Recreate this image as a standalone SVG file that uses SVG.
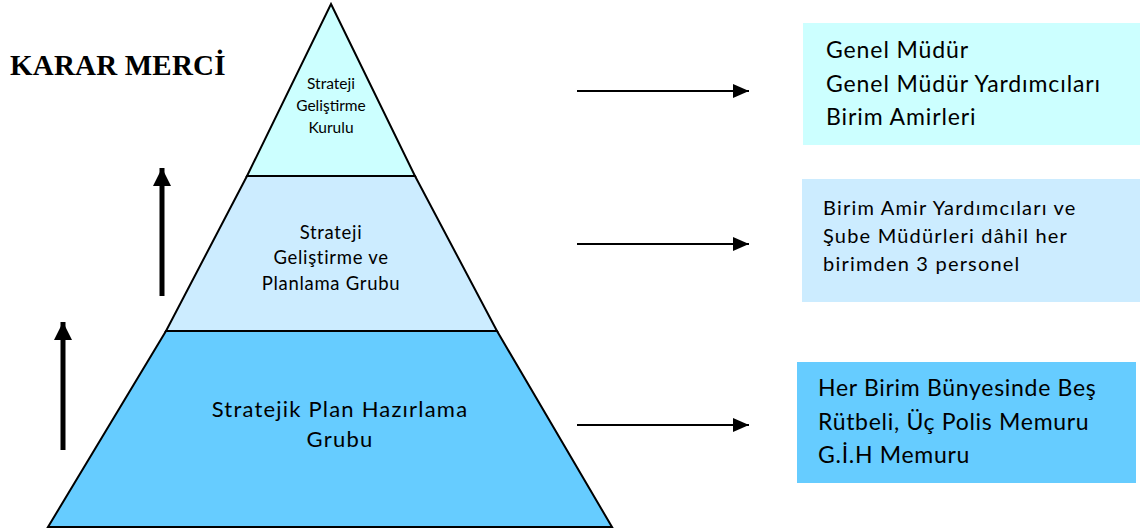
<svg xmlns="http://www.w3.org/2000/svg" width="1140" height="528" viewBox="0 0 1140 528">
  <defs>
    <marker id="headRight" markerWidth="16" markerHeight="14" refX="16" refY="7" orient="auto" markerUnits="userSpaceOnUse">
      <path d="M0,0 L16,7 L0,14 Z" fill="#000"/>
    </marker>
    <marker id="headUp" markerWidth="18" markerHeight="18" refX="18" refY="9" orient="auto" markerUnits="userSpaceOnUse">
      <path d="M0,0 L18,9 L0,18 Z" fill="#000"/>
    </marker>
  </defs>
  <style>
    .tier { stroke: #000; stroke-width: 2; stroke-linejoin: miter; }
    .t1 { fill: #CCFFFF; }
    .t2 { fill: #CCECFF; }
    .t3 { fill: #66CCFF; }
    .lbl { font-family: Lato, "Open Sans", "Noto Sans", sans-serif; fill: #000; }
    .ctr { text-anchor: middle; }
    .title { font-family: "Liberation Serif", "Times New Roman", serif; font-weight: bold; font-size: 29px; letter-spacing: 0.2px; fill: #000; }
    .flow { stroke: #000; stroke-width: 2; fill: none; marker-end: url(#headRight); }
    .rise { stroke: #000; stroke-width: 5; fill: none; marker-end: url(#headUp); }
  </style>

  <rect width="1140" height="528" fill="#fff"/>

  <text class="title" x="10" y="75">KARAR MERCİ</text>

  <!-- Pyramid tiers -->
  <g id="tier-top">
    <polygon class="tier t1" points="331,4 415,176 247,176"/>
    <text class="lbl ctr" font-size="15.5" x="331" y="89">Strateji</text>
    <text class="lbl ctr" font-size="15.5" x="331" y="111">Geliştirme</text>
    <text class="lbl ctr" font-size="15.5" x="331" y="133">Kurulu</text>
  </g>
  <g id="tier-middle">
    <polygon class="tier t2" points="247,176 415,176 497,331 166,331"/>
    <text class="lbl ctr" font-size="18.5" letter-spacing="0.7" x="331" y="239">Strateji</text>
    <text class="lbl ctr" font-size="18.5" letter-spacing="0.7" x="331" y="264">Geliştirme ve</text>
    <text class="lbl ctr" font-size="18.5" letter-spacing="0.7" x="331" y="290">Planlama Grubu</text>
  </g>
  <g id="tier-bottom">
    <polygon class="tier t3" points="166,331 497,331 612,527 48,527"/>
    <text class="lbl ctr" font-size="22" letter-spacing="1.2" x="340" y="417">Stratejik Plan Hazırlama</text>
    <text class="lbl ctr" font-size="22" letter-spacing="1.2" x="340" y="447">Grubu</text>
  </g>

  <!-- Member boxes -->
  <g id="box-top">
    <rect x="803" y="23" width="337" height="122" fill="#CCFFFF"/>
    <text class="lbl" font-size="23" letter-spacing="0.9" x="826" y="58">Genel Müdür</text>
    <text class="lbl" font-size="23" letter-spacing="0.9" x="826" y="92">Genel Müdür Yardımcıları</text>
    <text class="lbl" font-size="23" letter-spacing="0.9" x="826" y="125">Birim Amirleri</text>
  </g>
  <g id="box-middle">
    <rect x="802" y="179" width="338" height="123" fill="#CCECFF"/>
    <text class="lbl" font-size="20" letter-spacing="1.2" x="823" y="215">Birim Amir Yardımcıları ve</text>
    <text class="lbl" font-size="20" letter-spacing="1.2" x="823" y="243">Şube Müdürleri dâhil her</text>
    <text class="lbl" font-size="20" letter-spacing="1.2" x="823" y="271">birimden 3 personel</text>
  </g>
  <g id="box-bottom">
    <rect x="797" y="362" width="339" height="121" fill="#66CCFF"/>
    <text class="lbl" font-size="23" letter-spacing="0.7" x="818" y="396">Her Birim Bünyesinde Beş</text>
    <text class="lbl" font-size="23" letter-spacing="0.7" x="818" y="430">Rütbeli, Üç Polis Memuru</text>
    <text class="lbl" font-size="23" letter-spacing="0.7" x="818" y="463">G.İ.H Memuru</text>
  </g>

  <!-- Connectors -->
  <g id="connectors">
    <line class="flow" x1="577" y1="91" x2="749" y2="91"/>
    <line class="flow" x1="577" y1="244" x2="749" y2="244"/>
    <line class="flow" x1="577" y1="425" x2="749" y2="425"/>
    <line class="rise" x1="162" y1="296" x2="162" y2="168"/>
    <line class="rise" x1="63" y1="450" x2="63" y2="322"/>
  </g>
</svg>
